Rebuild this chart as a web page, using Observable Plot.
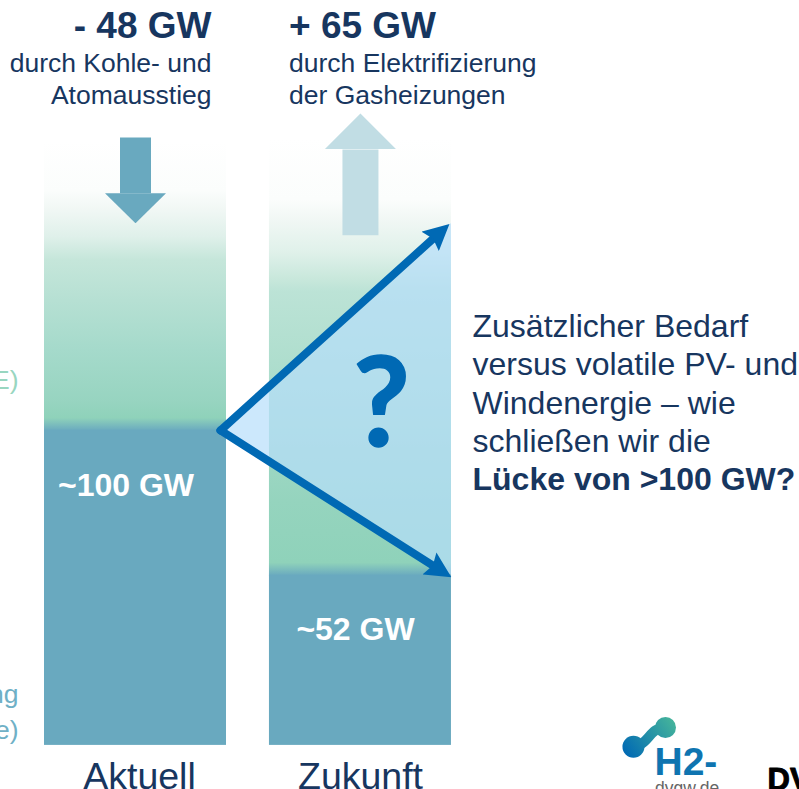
<!DOCTYPE html>
<html lang="de">
<head>
<meta charset="utf-8">
<title>Lücke von mehr als 100 GW</title>
<script src="https://cdn.jsdelivr.net/npm/d3@7"></script>
<script src="https://cdn.jsdelivr.net/npm/@observablehq/plot@0.6"></script>
<style>
  html, body { margin: 0; padding: 0; background: #fff; overflow: hidden; }
  svg { display: block; }
</style>
</head>
<body>
<div id="chart"></div>
<script>
// Chart values (GW)
const categories = ["Aktuell", "Zukunft"];
const securedPower = [100, 54];         // solid lower part of each column
const columnTop = [191.7, 192.7];       // where each faded column starts
const removedRange = [193, 175.3];      // "- 48 GW" arrow shaft
const addedRange = [162, 189.2];        // "+ 65 GW" arrow shaft
const gapApex = 100;                    // left point of the gap wedge
const gapLow = 54;                      // lower end of the wedge
const gapHigh = 165.7;                  // upper end of the wedge
const columnLabels = ["~100 GW", "~52 GW"];
const headline = ["- 48 GW", "+ 65 GW"];

const slot = 1.236;                     // column pitch, in column widths
const apexX = 0.967;
const columns = categories.map((name, i) => ({
  name, x1: i * slot, x2: i * slot + 1, mid: i * slot + 0.5,
  low: securedPower[i], top: columnTop[i]
}));

const ink = "#17365f", blue = "#0069b4", steel = "#69a9bf";

function gradient(sel, id, stops, attrs = {}) {
  const g = sel.append("linearGradient").attr("id", id);
  for (const k in attrs) g.attr(k, attrs[k]);
  stops.forEach(([o, c]) => g.append("stop").attr("offset", o).attr("stop-color", c));
}

const defs = () => {
  const d = d3.create("svg:defs");
  const vertical = {x1: 0, x2: 0, y1: 0, y2: 1};
  gradient(d, "fade0", [[0, "#ffffff"], [.17, "#fbfdfc"], [.24, "#f0f7f4"], [.33, "#dff0ea"], [.41, "#c5e6da"],
    [.55, "#b6e0d3"], [.72, "#a5dacb"], [.90, "#97d4c0"], [.955, "#8fd2ba"], [1, steel]], vertical);
  gradient(d, "fade1", [[0, "#ffffff"], [.14, "#fbfdfc"], [.19, "#f0f7f4"], [.26, "#e0f1ea"], [.32, "#c9e8dc"],
    [.35, "#bce3d6"], [.83, "#95d4be"], [.97, "#8fd2ba"], [1, steel]], vertical);
  gradient(d, "logoBlob", [[0, "#0069b4"], [1, "#48b79a"]], {gradientUnits: "userSpaceOnUse", x1: 625, x2: 675, y1: 755, y2: 718});
  gradient(d, "logoText", [[0, "#0f74b0"], [1, "#45b59b"]], {gradientUnits: "userSpaceOnUse", x1: 655, x2: 720, y1: 772, y2: 750});
  return d.node();
};

// Solid triangular arrow head, drawn in pixels at the end of a line
const head = (length, halfWidth, back, notch = 0) => (color) => {
  const m = d3.create("svg:marker")
    .attr("viewBox", `0 ${-halfWidth} ${length} ${2 * halfWidth}`)
    .attr("markerUnits", "userSpaceOnUse")
    .attr("markerWidth", length).attr("markerHeight", 2 * halfWidth)
    .attr("refX", back).attr("refY", 0).attr("orient", "auto");
  m.append("path").attr("fill", color).attr("stroke", "none")
    .attr("d", `M0,${-halfWidth}L${length},0L0,${halfWidth}L${notch},0Z`);
  return m.node();
};

const font = "Liberation Sans, Arial, sans-serif";
// Captions placed on the page rather than on the value scales
const note = (text, dx, dy, o = {}) => Plot.text([text], {
  frameAnchor: "top-left", dx, dy, lineAnchor: "bottom",
  textAnchor: "start", fontSize: 26.5, fill: ink, fontFamily: font, ...o
});

const chart = Plot.plot({
  width: 799, height: 789,
  margin: 0,
  style: {background: "transparent", fontFamily: font, overflow: "hidden"},
  x: {type: "linear", axis: null, domain: [-44 / 182, 755 / 182], range: [0, 799]},
  y: {type: "linear", axis: null, domain: [-14, 236.5], range: [789, 0]},
  marks: [
    defs,
    // columns
    ...columns.map((c, i) => Plot.rect([c], {x1: "x1", x2: "x2", y1: (d) => d.low - 0.3, y2: "top", fill: `url(#fade${i})`})),
    Plot.rect(columns, {x1: "x1", x2: "x2", y1: 0, y2: "low", fill: steel}),

    // gap wedge
    Plot.areaY([
      {x: apexX, lo: gapApex, hi: gapApex},
      {x: columns[1].x2, lo: gapLow, hi: gapHigh}
    ], {x: "x", y1: "lo", y2: "hi", fill: "#b7defb", fillOpacity: 0.7}),

    // big vertical arrows
    Plot.line([{x: columns[0].mid, y: removedRange[0]}, {x: columns[0].mid, y: removedRange[1]}], {
      x: "x", y: "y", stroke: steel, strokeWidth: 31, strokeLinecap: "butt",
      markerEnd: head(30, 30.5, 0)
    }),
    Plot.line([{x: columns[1].mid, y: addedRange[0]}, {x: columns[1].mid, y: addedRange[1]}], {
      x: "x", y: "y", stroke: "#c1dde4", strokeWidth: 36, strokeLinecap: "butt",
      markerEnd: head(36, 36, 0)
    }),

    // diverging arrows
    Plot.line([{x: apexX, y: gapApex}, {x: columns[1].x2 - 0.06, y: gapHigh - 2.7}], {
      x: "x", y: "y", stroke: blue, strokeWidth: 8, strokeLinecap: "round",
      markerEnd: head(26, 13, 14, 4)
    }),
    Plot.line([{x: apexX, y: gapApex}, {x: columns[1].x2 - 0.056, y: gapLow + 1.4}], {
      x: "x", y: "y", stroke: blue, strokeWidth: 8, strokeLinecap: "round",
      markerEnd: head(26, 13, 14, 4)
    }),

    // headlines
    note(headline[0], 211, 37, {textAnchor: "end", fontWeight: "bold", fontSize: 37}),
    note("durch Kohle- und", 211, 71, {textAnchor: "end"}),
    note("Atomausstieg", 211, 103, {textAnchor: "end"}),
    note(headline[1], 288.5, 37, {fontWeight: "bold", fontSize: 37}),
    note("durch Elektrifizierung", 288.5, 71),
    note("der Gasheizungen", 288.5, 103),

    // cropped side labels
    note("E)", 18, 388, {textAnchor: "end", fill: "#98d6c0"}),
    note("ng", 18, 702, {textAnchor: "end", fill: "#6fb0c6"}),
    note("e)", 18, 738, {textAnchor: "end", fill: "#6fb0c6"}),

    // column labels
    note(columnLabels[0], 125.5, 495, {textAnchor: "middle", fontWeight: "bold", fontSize: 32, fill: "#fff"}),
    note(columnLabels[1], 355, 639, {textAnchor: "middle", fontWeight: "bold", fontSize: 32, fill: "#fff"}),
    note(categories[0], 139, 788, {textAnchor: "middle", fontSize: 37.5}),
    note(categories[1], 360, 788, {textAnchor: "middle", fontSize: 37.5}),

    // question mark and commentary
    note("?", 381, 445.5, {textAnchor: "middle", fontWeight: "bold", fontSize: 124, fill: blue, fontFamily: "Lato", stroke: blue, strokeWidth: 1.5}),
    note("Zusätzlicher Bedarf", 472, 336, {fontSize: 32}),
    note("versus volatile PV- und", 472, 374, {fontSize: 32}),
    note("Windenergie – wie", 472, 413, {fontSize: 32}),
    note("schließen wir die", 472, 451, {fontSize: 32}),
    note("Lücke von >100 GW?", 472, 489, {fontSize: 32, fontWeight: "bold"}),

    // logos
    Plot.line([{x: 3.23, y: -0.3}, {x: 3.41, y: 5.7}], {
      x: "x", y: "y", stroke: "url(#logoBlob)", strokeWidth: 10, curve: "bump-x"
    }),
    Plot.dot([{x: 3.236, y: -0.4}], {x: "x", y: "y", r: 11, fill: "url(#logoBlob)"}),
    Plot.dot([{x: 3.412, y: 5.7}], {x: "x", y: "y", r: 10.5, fill: "url(#logoBlob)"}),
    note("H2-", 654, 774, {fontWeight: "bold", fontSize: 39, fill: "url(#logoText)"}),
    note("dvgw.de", 654.5, 793, {fontSize: 17.5, fill: "#666"}),
    note("DV", 767, 789, {fontWeight: "bold", fontSize: 31, fill: "#000", stroke: "#000", strokeWidth: 1})
  ]
});
document.getElementById("chart").append(chart);
</script>
</body>
</html>
